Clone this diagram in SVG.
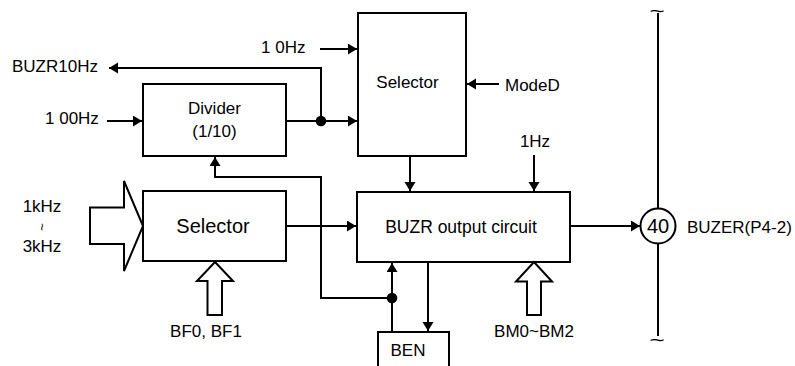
<svg xmlns="http://www.w3.org/2000/svg" width="795" height="366" viewBox="0 0 795 366">
<style>
text{font-family:"Liberation Sans",Arial,sans-serif;font-size:17px;fill:#000}
.box{fill:#fff;stroke:#000;stroke-width:2}
.ln{fill:none;stroke:#000;stroke-width:2}
.hol{fill:#fff;stroke:#000;stroke-width:2;stroke-linejoin:miter}
.c{text-anchor:middle}
.tl{font-size:18px;text-anchor:middle}
</style>
<defs>
<marker id="ah" markerUnits="userSpaceOnUse" markerWidth="10" markerHeight="12" refX="9" refY="5.5" orient="auto">
<path d="M0,0 L9,5.5 L0,11 z" fill="#000"/>
</marker>
</defs>
<g id="selector-top"><rect class="box" x="358" y="13" width="108" height="143"/><text class="c" x="407.5" y="88">Selector</text></g>
<g id="divider"><rect class="box" x="143" y="84" width="143" height="72"/><text class="c" x="214.5" y="114">Divider</text><text class="c" x="214.5" y="137">(1/10)</text></g>
<g id="selector-bottom"><rect class="box" x="143" y="191" width="143" height="70"/><text class="c" x="213" y="233" style="font-size:20px">Selector</text></g>
<g id="buzr-output"><rect class="box" x="357" y="192" width="213" height="70"/><text class="c" x="461" y="233" style="font-size:17.5px">BUZR output circuit</text></g>
<g id="ben"><rect class="box" x="378" y="332" width="71" height="40"/><text x="390.5" y="356">BEN</text></g>
<g id="pin40"><circle class="box" cx="658" cy="226" r="17.5"/><text class="c" x="658" y="233" style="font-size:20px">40</text><text x="687" y="233">BUZER(P4-2)</text></g>
<g id="bus"><path class="ln" d="M658,13 V208.5 M658,243.5 V336"/><text class="tl" transform="translate(657,16.5) scale(1.45,1)">~</text><text class="tl" transform="translate(657,345.5) scale(1.45,1)">~</text></g>
<g id="input-1k3k"><polygon class="hol" points="90,207.5 124,207.5 124,181 143,226 124,271 124,244 90,244"/><text class="c" x="42" y="212">1kHz</text><text class="c" transform="translate(42,227) rotate(90)" x="0" y="4" style="font-size:13px">~</text><text class="c" x="42" y="252">3kHz</text></g>
<g id="input-bf"><polygon class="hol" points="215,262 233,281 222,281 222,315 207.5,315 207.5,281 197,281"/><text class="c" x="206" y="337">BF0, BF1</text></g>
<g id="input-bm"><polygon class="hol" points="534,262 552,281.5 541,281.5 541,315 527,315 527,281.5 516,281.5"/><text class="c" x="534" y="337">BM0~BM2</text></g>
<g id="labels">
<text x="261" y="53">1 0Hz</text>
<text x="12" y="72">BUZR10Hz</text>
<text x="45" y="124">1 00Hz</text>
<text x="505" y="91">ModeD</text>
<text class="c" x="535" y="147">1Hz</text>
</g>
<g id="connectors">
<path class="ln" d="M320,49 H357" marker-end="url(#ah)"/>
<path class="ln" d="M321,121 V68 H109" marker-end="url(#ah)"/>
<path class="ln" d="M107,121 H142" marker-end="url(#ah)"/>
<path class="ln" d="M287,121 H357" marker-end="url(#ah)"/>
<path class="ln" d="M499,84 H467" marker-end="url(#ah)"/>
<path class="ln" d="M410,157 V191" marker-end="url(#ah)"/>
<path class="ln" d="M534,155 V191" marker-end="url(#ah)"/>
<path class="ln" d="M287,226 H356" marker-end="url(#ah)"/>
<path class="ln" d="M392,332 V263" marker-end="url(#ah)"/>
<path class="ln" d="M392,298 H321 V177 H215 V157" marker-end="url(#ah)"/>
<path class="ln" d="M428,262 V331" marker-end="url(#ah)"/>
<path class="ln" d="M571,226 H640" marker-end="url(#ah)"/>
<circle cx="321" cy="121" r="5.3" fill="#000"/>
<circle cx="392" cy="298" r="5.3" fill="#000"/>
</g>
</svg>
